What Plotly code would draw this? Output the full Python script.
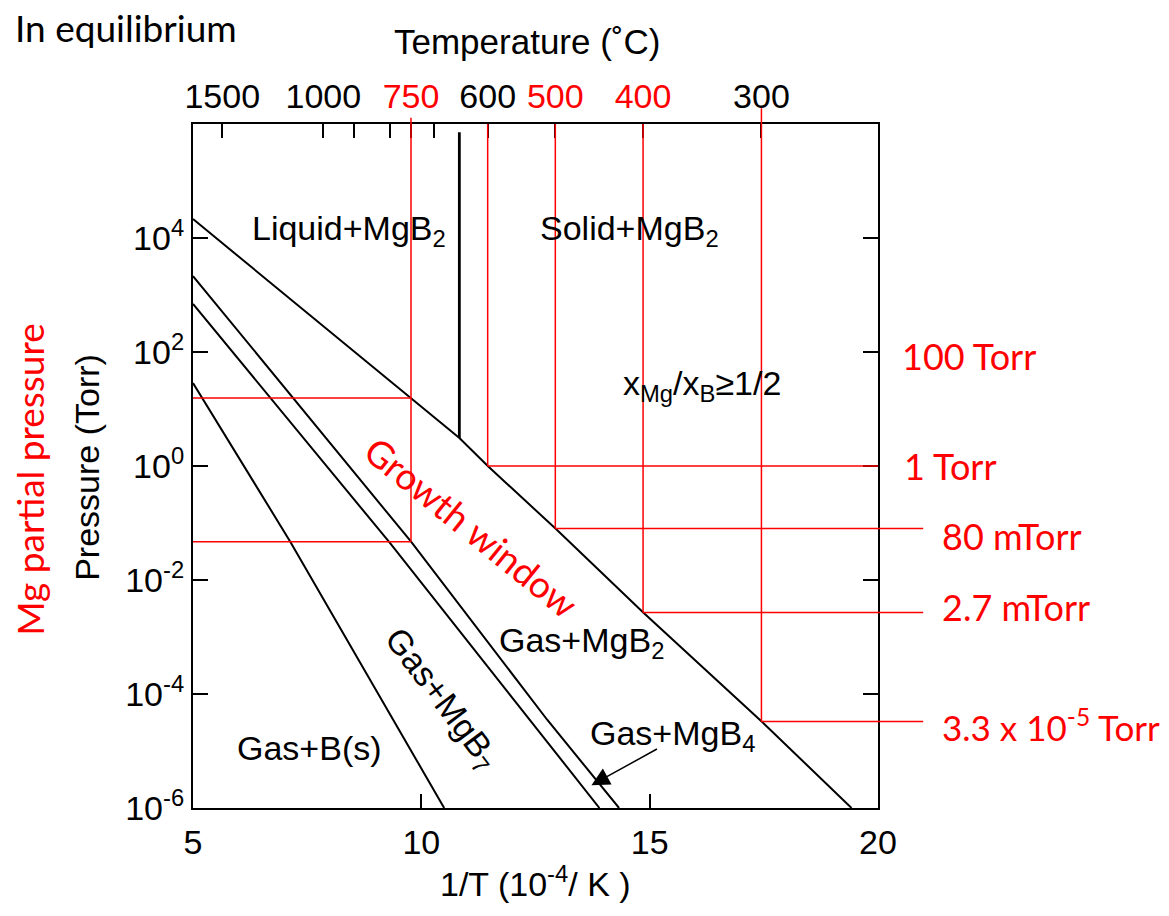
import plotly.graph_objects as go
import numpy as np

# ---------------- data ----------------
# 1/T in units of 1e-4 / K ; pressure in Torr
mg_invT = [5.0, 9.775, 10.834, 11.455, 12.937, 14.859, 17.452, 19.42]
mg_P = [2.15e4, 15.6, 3.1, 1.0, 0.08, 2.7e-3, 3.3e-5, 1.0e-6]

mgb4_invT = [5.0, 9.775, 12.76, 14.33]
mgb4_P = [2.15e3, 0.047, 3.5e-5, 1.0e-6]

mgb7_invT = [5.0, 9.29, 13.90]
mgb7_P = [695.0, 0.047, 1.0e-6]

b_invT = [5.0, 7.13, 10.50]
b_P = [28.6, 0.047, 1.0e-6]

melt_C = 650
melt_P = [3.1, 7.2e5]

# red guide lines
mark_C = [750, 600, 500, 400, 300]
mark_P = [0.047, 1.0, 0.08, 2.7e-3, 3.3e-5]
left_mark_P = [15.6, 0.047]
right_ext = [False, False, True, True, True]

right_labels = ["100 Torr", "1 Torr", "80 mTorr", "2.7 mTorr", "3.3 x 10<sup>-5</sup> Torr"]
right_label_P = [100.0, 1.0, 0.08, 2.7e-3, 3.3e-5]
right_label_x = [1.032, 1.035, 1.090, 1.090, 1.090]
right_label_shift = [-4, 0, -7, 5, -4]
right_label_size = [36, 36, 36, 36, 35]

top_label_C = [1500, 1000, 750, 600, 500, 400, 300]
top_label_red = [False, False, True, False, True, True, False]
top_minor_C = [900, 800, 700]

x_tickvals = [5, 10, 15, 20]
y_exp = [-6, -4, -2, 0, 2, 4]


def inv_t(c):
    return 1e4 / (c + 273.15)


RED = "#ff0000"
SANS = "Liberation Sans, Arial, Helvetica, sans-serif"
CAL = "Lato, Open Sans, sans-serif"
FS = 34

fig = go.Figure()

for xs, ys in [(mg_invT, mg_P), (mgb4_invT, mgb4_P), (mgb7_invT, mgb7_P), (b_invT, b_P)]:
    fig.add_trace(go.Scatter(x=xs, y=ys, mode="lines", line=dict(color="black", width=2),
                             hoverinfo="skip", showlegend=False))

fig.add_trace(go.Scatter(x=[inv_t(melt_C)] * 2, y=melt_P, mode="lines",
                         line=dict(color="black", width=2.8), hoverinfo="skip", showlegend=False))

# invisible trace to carry the top temperature axis
fig.add_trace(go.Scatter(x=[5, 20], y=[1e-6, 1e-6], xaxis="x2", mode="lines",
                         line=dict(width=0), hoverinfo="skip", showlegend=False))

shapes = []
lw = 1.5
for c, p, ext in zip(mark_C, mark_P, right_ext):
    x = inv_t(c)
    shapes.append(dict(type="line", xref="x", yref="y", x0=x, x1=x, y0=p, y1=1e7,
                       line=dict(color=RED, width=lw)))
    if c != 750:
        shapes.append(dict(type="line", xref="x", yref="y", x0=x, x1=20, y0=p, y1=p,
                           line=dict(color=RED, width=lw)))
    if ext:
        shapes.append(dict(type="line", xref="paper", yref="y", x0=1.0, x1=1.066, y0=p, y1=p,
                           line=dict(color=RED, width=lw)))
# stubs above the frame
for c, top in [(750, 1.009), (300, 1.023)]:
    x = inv_t(c)
    shapes.append(dict(type="line", xref="x", yref="paper", x0=x, x1=x, y0=1.0, y1=top,
                       line=dict(color=RED, width=lw)))
for p in left_mark_P:
    shapes.append(dict(type="line", xref="x", yref="y", x0=5, x1=inv_t(750), y0=p, y1=p,
                       line=dict(color=RED, width=lw)))

ann = []


def txt(x, y, s, size=FS, color="black", font=SANS, angle=0, xanchor="center", yanchor="middle",
        xref="x", yref="y"):
    ann.append(dict(x=x, y=y, xref=xref, yref=yref, text=s, showarrow=False, textangle=angle,
                    xanchor=xanchor, yanchor=yanchor, font=dict(size=size, color=color, family=font)))


txt(8.41, 4.14, "Liquid+MgB<sub>2</sub>")
txt(14.56, 4.14, "Solid+MgB<sub>2</sub>")
txt(16.14, 1.42, "x<sub>Mg</sub>/x<sub>B</sub>≥1/2")
txt(13.5, -3.1, "Gas+MgB<sub>2</sub>")
txt(7.55, -4.95, "Gas+B(s)")
txt(10.43, -4.1, "Gas+MgB<sub>7</sub>", angle=53)
txt(11.09, -1.07, "Growth window", size=37, color=RED, font=CAL, angle=39)

# Gas+MgB4 label and arrow
txt(15.5, -4.72, "Gas+MgB<sub>4</sub>")
ann.append(dict(x=13.725, y=-5.6, xref="x", yref="y", ax=67, ay=-37, text="", showarrow=True,
                arrowhead=2, arrowsize=2.4, arrowwidth=1.5, arrowcolor="black", standoff=0))

# right red labels
for s, p, xp, sh, sz in zip(right_labels, right_label_P, right_label_x, right_label_shift, right_label_size):
    ann.append(dict(x=xp, y=np.log10(p), xref="paper", yref="y", text=s, showarrow=False,
                    xanchor="left", yanchor="middle", yshift=sh,
                    font=dict(size=sz, color=RED, family=CAL)))

# titles / outer text
txt(-0.263, 1.141, "In equilibrium", size=37, font=CAL, xanchor="left", xref="paper", yref="paper")
txt(0.4876, 1.12, "Temperature (˚C)", size=35, xref="paper", yref="paper")
txt(0.50, -0.108, "1/T (10<sup>-4</sup>/ K )", size=FS, xref="paper", yref="paper")
txt(-0.155, 0.4985, "Pressure (Torr)", size=FS, angle=-90, xref="paper", yref="paper")
txt(-0.238, 0.48, "Mg partial pressure", size=37, color=RED, font=CAL, angle=-90, xref="paper", yref="paper")

top_vals = [inv_t(c) for c in top_label_C]
top_text = [f'<span style="color:{RED}">{c}</span>' if r else str(c) for c, r in zip(top_label_C, top_label_red)]

fig.update_layout(
    width=1169, height=916,
    margin=dict(l=193, r=291, t=124, b=108),
    paper_bgcolor="white", plot_bgcolor="white",
    showlegend=False,
    xaxis=dict(range=[5, 20], tickvals=x_tickvals, ticktext=[str(v) for v in x_tickvals],
               ticks="inside", ticklen=14, tickwidth=2, tickcolor="black",
               showline=True, linecolor="black", linewidth=2, mirror=True,
               showgrid=False, zeroline=False, tickfont=dict(size=FS, family=SANS, color="black"),
               ticklabelstandoff=3),
    xaxis2=dict(range=[5, 20], overlaying="x", side="top", tickvals=top_vals, ticktext=top_text,
                ticks="inside", ticklen=14, tickwidth=2, tickcolor="black", showline=False,
                showgrid=False, zeroline=False, tickfont=dict(size=FS, family=SANS, color="black"),
                ticklabelstandoff=8,
                minor=dict(tickvals=[inv_t(c) for c in top_minor_C], ticks="inside", ticklen=14,
                           tickwidth=2, tickcolor="black", showgrid=False)),
    yaxis=dict(type="log", range=[-6, 6], tickvals=[10.0 ** e for e in y_exp],
               ticktext=[f"10<sup>{e}</sup>" for e in y_exp],
               ticks="inside", ticklen=15, tickwidth=2, tickcolor="black",
               showline=True, linecolor="black", linewidth=2, mirror="ticks",
               showgrid=False, zeroline=False, tickfont=dict(size=FS, family=SANS, color="black"),
               ticklabelstandoff=0),
    shapes=shapes,
    annotations=ann,
)

fig.write_html("out.html", config={"displayModeBar": False},
               post_script="document.body.style.margin='0px';")
